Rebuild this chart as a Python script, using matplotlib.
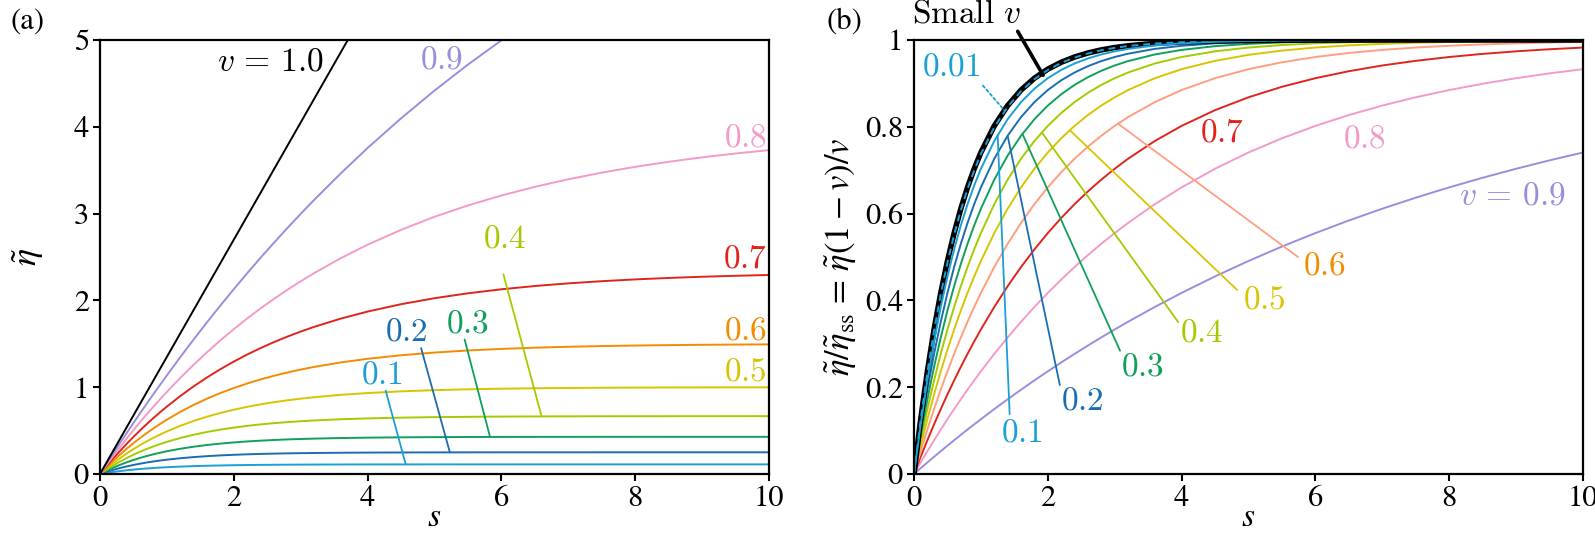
import matplotlib
matplotlib.use("Agg")
import matplotlib.pyplot as plt

plt.rcParams['font.family'] = ['STIXGeneral', 'DejaVu Serif']
plt.rcParams['mathtext.fontset'] = 'stix'

# ---------------- data ----------------
S = [0, 0.1, 0.2, 0.3, 0.4, 0.5, 0.6, 0.7, 0.8, 0.9, 1.0, 1.2, 1.4, 1.6, 1.8, 2.0,
     2.2, 2.4, 2.6, 2.8, 3.0, 3.2, 3.6, 4.0, 4.5, 5, 5.5, 6, 6.5, 7, 7.5, 8,
     8.5, 9, 9.5, 10]

# panel (a): eta tilde
eta_01 = [0, .0127, .0240, .0339, .0428, .0506, .0575, .0636, .0691, .0739, .0781, .0853, .0908, .0952, .0986, .1013, .1034, .1051, .1064, .1074, .1082, .1088, .1097, .1103, .1106, .1109, .1110, .1110, .1111, .1111, .1111, .1111, .1111, .1111, .1111, .1111]
eta_02 = [0, .0256, .0486, .0692, .0877, .1043, .1192, .1326, .1446, .1554, .1651, .1816, .1949, .2056, .2142, .2212, .2268, .2313, .2349, .2379, .2402, .2421, .2449, .2467, .2481, .2489, .2494, .2496, .2498, .2499, .2499, .2500, .2500, .2500, .2500, .2500]
eta_03 = [0, .0387, .0738, .1058, .1349, .1614, .1855, .2074, .2274, .2455, .2620, .2907, .3144, .3341, .3504, .3638, .3750, .3842, .3918, .3982, .4034, .4077, .4143, .4188, .4225, .4248, .4262, .4271, .4277, .4280, .4282, .4284, .4284, .4285, .4285, .4285]
eta_04 = [0, .0519, .0997, .1438, .1845, .2220, .2566, .2885, .3179, .3451, .3701, .4145, .4522, .4843, .5115, .5347, .5545, .5713, .5855, .5977, .6080, .6167, .6306, .6405, .6493, .6551, .6589, .6615, .6632, .6644, .6651, .6657, .6660, .6662, .6663, .6665]
eta_05 = [0, .0653, .1263, .1833, .2366, .2864, .3330, .3766, .4173, .4553, .4908, .5551, .6113, .6604, .7033, .7408, .7735, .8021, .8271, .8489, .8680, .8847, .9120, .9328, .9520, .9658, .9756, .9826, .9876, .9911, .9937, .9955, .9968, .9977, .9984, .9988]
eta_06 = [0, .0789, .1536, .2244, .2915, .3549, .4152, .4722, .5262, .5774, .6260, .7154, .7958, .8678, .9326, .9906, 1.0428, 1.0896, 1.1316, 1.1693, 1.2032, 1.2336, 1.2854, 1.3271, 1.3680, 1.3992, 1.4231, 1.4412, 1.4552, 1.4658, 1.4739, 1.4801, 1.4847, 1.4885, 1.4912, 1.4933]
eta_07 = [0, .0926, .1815, .2669, .3491, .4277, .5033, .5761, .6459, .7128, .7770, .8981, 1.0099, 1.1128, 1.2077, 1.2952, 1.3762, 1.4506, 1.5192, 1.5827, 1.6410, 1.6949, 1.7904, 1.8716, 1.9563, 2.0253, 2.0818, 2.1280, 2.1656, 2.1964, 2.2213, 2.2419, 2.2587, 2.2724, 2.2836, 2.2927]
eta_08 = [0, .1064, .2104, .3112, .4096, .5052, .5984, .6888, .7772, .8628, .9464, 1.1072, 1.2592, 1.4032, 1.5396, 1.6692, 1.7916, 1.9076, 2.0176, 2.1220, 2.2204, 2.3140, 2.4868, 2.6416, 2.8132, 2.9632, 3.0940, 3.2084, 3.3084, 3.3956, 3.4720, 3.5388, 3.5968, 3.6480, 3.6924, 3.7312]
eta_09 = [0, .1206, .2394, .3573, .4734, .5877, .7002, .8118, .9216, 1.0296, 1.1367, 1.3464, 1.5498, 1.7487, 1.9413, 2.1294, 2.3130, 2.4912, 2.6640, 2.8332, 2.9970, 3.1572, 3.4641, 3.7557, 4.0977, 4.4172, 4.7169, 4.9959, 5.2578, 5.5017, 5.7303, 5.9436, 6.1434, 6.3297, 6.5043, 6.6672]
eta_10 = [0, .135, .27, .405, .54, .675, .81, .945, 1.08, 1.215, 1.35, 1.62, 1.89, 2.16, 2.43, 2.70, 2.97, 3.24, 3.51, 3.78, 4.05, 4.32, 4.86, 5.40, 6.075, 6.75, 7.425, 8.10, 8.775, 9.45, 10.125, 10.8, 11.475, 12.15, 12.825, 13.5]

# panel (b): eta / eta_ss
nrm_small = [0, .1263, .2366, .3330, .4173, .4908, .5551, .6113, .6604, .7033, .7408, .8021, .8489, .8847, .9120, .9328, .9487, .9608, .9701, .9772, .9826, .9867, .9922, .9955, .9977, .9988, .9994, .9997, .9998, .9999, 1, 1, 1, 1, 1, 1]
nrm_001 = [0, .1251, .2346, .3303, .4141, .4874, .5515, .6076, .6567, .6997, .7372, .7989, .8460, .8822, .9098, .9310, .9472, .9595, .9690, .9763, .9819, .9861, .9919, .9952, .9976, .9987, .9994, .9997, .9998, .9999, 1, 1, 1, 1, 1, 1]
nrm_01 = [0, .1144, .2157, .3055, .3849, .4553, .5176, .5728, .6217, .6650, .7033, .7673, .8175, .8569, .8877, .9120, .9310, .9459, .9575, .9667, .9739, .9795, .9874, .9923, .9958, .9977, .9987, .9993, .9996, .9998, .9999, .9999, 1, 1, 1, 1]
nrm_02 = [0, .1024, .1943, .2768, .3508, .4173, .4769, .5305, .5785, .6217, .6604, .7264, .7795, .8224, .8569, .8847, .9071, .9251, .9397, .9514, .9608, .9684, .9795, .9867, .9923, .9955, .9974, .9985, .9991, .9995, .9997, .9998, .9999, .9999, 1, 1]
nrm_03 = [0, .0902, .1722, .2469, .3148, .3766, .4328, .4839, .5305, .5728, .6113, .6783, .7337, .7795, .8175, .8489, .8749, .8965, .9143, .9291, .9413, .9514, .9667, .9772, .9858, .9911, .9945, .9966, .9979, .9987, .9992, .9995, .9997, .9998, .9999, .9999]
nrm_04 = [0, .0778, .1496, .2157, .2768, .3330, .3849, .4328, .4769, .5176, .5551, .6217, .6783, .7264, .7673, .8021, .8317, .8569, .8783, .8965, .9120, .9251, .9459, .9608, .9739, .9826, .9884, .9923, .9948, .9966, .9977, .9985, .9990, .9993, .9995, .9997]
nrm_05 = [0, .0653, .1263, .1833, .2366, .2864, .3330, .3766, .4173, .4553, .4908, .5551, .6113, .6604, .7033, .7408, .7735, .8021, .8271, .8489, .8680, .8847, .9120, .9328, .9520, .9658, .9756, .9826, .9876, .9911, .9937, .9955, .9968, .9977, .9984, .9988]
nrm_06 = [0, .0526, .1024, .1496, .1943, .2366, .2768, .3148, .3508, .3849, .4173, .4769, .5305, .5785, .6217, .6604, .6952, .7264, .7544, .7795, .8021, .8224, .8569, .8847, .9120, .9328, .9487, .9608, .9701, .9772, .9826, .9867, .9898, .9923, .9941, .9955]
nrm_07 = [0, .0397, .0778, .1144, .1496, .1833, .2157, .2469, .2768, .3055, .3330, .3849, .4328, .4769, .5176, .5551, .5898, .6217, .6511, .6783, .7033, .7264, .7673, .8021, .8384, .8680, .8922, .9120, .9281, .9413, .9520, .9608, .9680, .9739, .9787, .9826]
nrm_08 = [0, .0266, .0526, .0778, .1024, .1263, .1496, .1722, .1943, .2157, .2366, .2768, .3148, .3508, .3849, .4173, .4479, .4769, .5044, .5305, .5551, .5785, .6217, .6604, .7033, .7408, .7735, .8021, .8271, .8489, .8680, .8847, .8992, .9120, .9231, .9328]
nrm_09 = [0, .0134, .0266, .0397, .0526, .0653, .0778, .0902, .1024, .1144, .1263, .1496, .1722, .1943, .2157, .2366, .2570, .2768, .2960, .3148, .3330, .3508, .3849, .4173, .4553, .4908, .5241, .5551, .5842, .6113, .6367, .6604, .6826, .7033, .7227, .7408]

x_ticks = [0, 2, 4, 6, 8, 10]
y_ticks_a = [0, 1, 2, 3, 4, 5]
y_ticks_b = [0, 0.2, 0.4, 0.6, 0.8, 1.0]
y_ticklabels_b = ['0', '0.2', '0.4', '0.6', '0.8', '1']

# ---------------- styles ----------------
C = {
    '0.1': '#1aa0d6', '0.2': '#1a6db3', '0.3': '#10a05a', '0.4': '#a4cb00',
    '0.5': '#d8c400', '0.6': '#f28c00', '0.6b': '#ff9e80', '0.7': '#e0241c',
    '0.8': '#f29ac9', '0.9': '#9a8ddd', '1.0': '#000000',
}
LW = 1.4
TICK_FS = 22
ANN_FS = 24

fig = plt.figure(figsize=(15.95, 5.35), dpi=100)
axA = fig.add_axes([100 / 1595, 61 / 535, 669 / 1595, 434 / 535])
axB = fig.add_axes([914 / 1595, 61 / 535, 669 / 1595, 434 / 535])

for ax in (axA, axB):
    ax.set_xlim(0, 10)
    ax.set_xticks(x_ticks)
    ax.tick_params(direction='out', length=5, width=1.5, labelsize=TICK_FS,
                   top=False, right=False, pad=3)
    for sp in ax.spines.values():
        sp.set_linewidth(1.6)

# ---- panel (a)
series_a = [('0.1', eta_01), ('0.2', eta_02), ('0.3', eta_03), ('0.4', eta_04),
            ('0.5', eta_05), ('0.6', eta_06), ('0.7', eta_07), ('0.8', eta_08),
            ('0.9', eta_09), ('1.0', eta_10)]
for key, ys in series_a:
    axA.plot(S, ys, color=C[key], lw=LW)
axA.set_ylim(0, 5)
axA.set_yticks(y_ticks_a)
axA.set_xlabel(r'$s$', fontsize=24, va='center')
axA.xaxis.set_label_coords(0.5, -0.102)
axA.set_ylabel(r'$\tilde{\eta}$', fontsize=26)
axA.yaxis.set_label_coords(-0.08, 0.5)


def lab(ax, x, y, s, color, ha='center', va='center'):
    ax.text(x, y, s, color=color, fontsize=ANN_FS, ha=ha, va=va,
            math_fontfamily='cm')


def leader(ax, p_label, p_curve, color, lw=1.3, ls='-'):
    ax.annotate('', xy=p_curve, xytext=p_label,
                arrowprops=dict(arrowstyle='-', color=color, lw=lw, ls=ls,
                                shrinkA=0, shrinkB=0))


lab(axA, 2.55, 4.74, r'$v\,=\,1.0$', C['1.0'])
lab(axA, 5.10, 4.76, r'$0.9$', C['0.9'])
lab(axA, 9.97, 3.86, r'$0.8$', C['0.8'], ha='right')
lab(axA, 9.97, 2.47, r'$0.7$', C['0.7'], ha='right')
lab(axA, 9.97, 1.64, r'$0.6$', C['0.6'], ha='right')
lab(axA, 9.97, 1.17, r'$0.5$', C['0.5'], ha='right')
lab(axA, 6.05, 2.70, r'$0.4$', C['0.4'])
lab(axA, 5.50, 1.72, r'$0.3$', C['0.3'])
lab(axA, 4.58, 1.63, r'$0.2$', C['0.2'])
lab(axA, 4.21, 1.13, r'$0.1$', C['0.1'])
leader(axA, (6.03, 2.30), (6.60, 0.665), C['0.4'])
leader(axA, (5.45, 1.55), (5.83, 0.427), C['0.3'])
leader(axA, (4.80, 1.45), (5.23, 0.248), C['0.2'])
leader(axA, (4.27, 0.96), (4.57, 0.111), C['0.1'])

# ---- panel (b)
series_b = [('0.9', nrm_09, C['0.9']), ('0.8', nrm_08, C['0.8']),
            ('0.7', nrm_07, C['0.7']), ('0.6', nrm_06, C['0.6b']),
            ('0.5', nrm_05, C['0.5']), ('0.4', nrm_04, C['0.4']),
            ('0.3', nrm_03, C['0.3']), ('0.2', nrm_02, C['0.2'])]
for key, ys, col in series_b:
    axB.plot(S, ys, color=col, lw=LW)
axB.plot(S, nrm_small, color='black', lw=4.0, solid_capstyle='butt')
axB.plot(S, nrm_01, color=C['0.1'], lw=LW)
axB.plot(S, nrm_001, color=C['0.1'], lw=1.4, ls=(0, (3.5, 2.5)))
axB.set_ylim(0, 1)
axB.set_yticks(y_ticks_b)
axB.set_yticklabels(y_ticklabels_b)
axB.set_xlabel(r'$s$', fontsize=24, va='center')
axB.xaxis.set_label_coords(0.5, -0.102)
axB.set_ylabel(r'$\tilde{\eta}/\tilde{\eta}_{\mathrm{ss}}\,=\,\tilde{\eta}(1-v)/v$',
               fontsize=25)
axB.yaxis.set_label_coords(-0.082, 0.5)

axB.text(0.78, 1.058, r'$\mathrm{Small}\ v$', fontsize=ANN_FS, ha='center',
         va='center', math_fontfamily='cm', clip_on=False)
axB.annotate('', xy=(1.93, 0.919), xytext=(1.55, 1.02),
             arrowprops=dict(arrowstyle='-', color='black', lw=2.6,
                             shrinkA=0, shrinkB=0), annotation_clip=False)
lab(axB, 0.56, 0.935, r'$0.01$', C['0.1'])
leader(axB, (1.03, 0.895), (1.35, 0.838), C['0.1'], lw=1.3, ls=(0, (1.5, 1.5)))
lab(axB, 1.62, 0.092, r'$0.1$', C['0.1'])
leader(axB, (1.43, 0.138), (1.25, 0.781), C['0.1'])
lab(axB, 2.52, 0.166, r'$0.2$', C['0.2'])
leader(axB, (2.18, 0.205), (1.40, 0.779), C['0.2'])
lab(axB, 3.41, 0.245, r'$0.3$', C['0.3'])
leader(axB, (3.08, 0.284), (1.62, 0.784), C['0.3'])
lab(axB, 4.30, 0.322, r'$0.4$', C['0.4'])
leader(axB, (3.95, 0.350), (1.91, 0.787), C['0.4'])
lab(axB, 5.24, 0.398, r'$0.5$', C['0.5'])
leader(axB, (4.83, 0.424), (2.33, 0.792), C['0.5'])
lab(axB, 6.13, 0.477, r'$0.6$', C['0.6'])
leader(axB, (5.74, 0.500), (3.05, 0.807), C['0.6b'])
lab(axB, 4.60, 0.783, r'$0.7$', C['0.7'])
lab(axB, 6.73, 0.770, r'$0.8$', C['0.8'])
lab(axB, 8.94, 0.638, r'$v\,=\,0.9$', C['0.9'])

fig.text(10 / 1595, 1 - 8 / 535, '(a)', fontsize=22, ha='left', va='top')
fig.text(826 / 1595, 1 - 8 / 535, '(b)', fontsize=22, ha='left', va='top')

fig.savefig('out.png', dpi=100)
